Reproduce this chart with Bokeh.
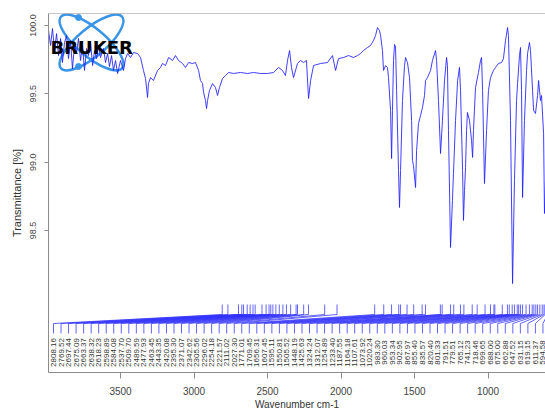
import math
from bokeh.plotting import figure
from bokeh.models import Range1d, FixedTicker, PrintfTickFormatter, Span, Title
from bokeh.core.properties import value
from bokeh.embed import file_html
from bokeh.resources import INLINE

# ---------------- data ----------------
wavenumber = [
    3990, 3976, 3963, 3949, 3935, 3922, 3908, 3895, 3881, 3867, 3854, 3840, 3827, 3813,
    3799, 3786, 3772, 3759, 3745, 3731, 3718, 3704, 3690, 3677, 3663, 3650, 3636, 3616,
    3602, 3588, 3575, 3561, 3548, 3534, 3520, 3500, 3480, 3466, 3452, 3432, 3412, 3384,
    3364, 3344, 3330, 3316, 3310, 3296, 3276, 3248, 3228, 3214, 3194, 3173, 3146, 3126,
    3105, 3078, 3058, 3037, 3010, 2990, 2969, 2956, 2942, 2935, 2922, 2915, 2908, 2895,
    2874, 2854, 2840, 2827, 2806, 2786, 2765, 2731, 2684, 2636, 2595, 2548, 2500, 2459,
    2425, 2398, 2378, 2364, 2350, 2337, 2323, 2296, 2276, 2255, 2235, 2221, 2207, 2187,
    2139, 2092, 2058, 2037, 2017, 1983, 1949, 1915, 1888, 1867, 1847, 1820, 1799, 1779,
    1765, 1752, 1738, 1731, 1718, 1711, 1697, 1684, 1677, 1663, 1656, 1650, 1643, 1636,
    1629, 1622, 1609, 1602, 1595, 1582, 1568, 1561, 1554, 1548, 1534, 1520, 1514, 1507,
    1493, 1486, 1473, 1459, 1446, 1432, 1425, 1412, 1391, 1378, 1357, 1350, 1337, 1323,
    1310, 1296, 1282, 1276, 1269, 1255, 1242, 1235, 1221, 1207, 1194, 1187, 1173, 1167,
    1160, 1153, 1146, 1140, 1126, 1112, 1105, 1099, 1085, 1065, 1051, 1044, 1037, 1024,
    1010, 997, 983, 963, 949, 929, 908, 895, 881, 867, 861, 847, 833, 820,
    806, 799, 786, 779, 772, 765, 752, 738, 731, 718, 711, 697, 690, 677,
    663, 656, 643, 636, 622, 616, 609,
]
transmittance = [
    99.963, 99.854, 99.978, 99.817, 99.941, 99.780, 99.905, 99.729, 99.876, 99.927, 99.758, 99.890, 99.685, 99.854,
    99.802, 99.905, 99.744, 99.854, 99.671, 99.832, 99.780, 99.876, 99.707, 99.817, 99.758, 99.854, 99.766, 99.832,
    99.729, 99.795, 99.700, 99.780, 99.671, 99.744, 99.649, 99.744, 99.671, 99.758, 99.795, 99.766, 99.802, 99.795,
    99.766, 99.671, 99.612, 99.473, 99.575, 99.619, 99.597, 99.671, 99.693, 99.722, 99.707, 99.766, 99.744, 99.780,
    99.744, 99.722, 99.693, 99.729, 99.722, 99.729, 99.671, 99.597, 99.575, 99.510, 99.451, 99.392, 99.451, 99.524,
    99.575, 99.546, 99.488, 99.546, 99.612, 99.634, 99.656, 99.649, 99.656, 99.649, 99.656, 99.649, 99.649, 99.656,
    99.693, 99.671, 99.634, 99.744, 99.817, 99.693, 99.619, 99.722, 99.744, 99.729, 99.744, 99.466, 99.597, 99.707,
    99.722, 99.729, 99.780, 99.671, 99.758, 99.766, 99.780, 99.766, 99.780, 99.795, 99.817, 99.839, 99.854, 99.890,
    99.927, 99.985, 99.963, 99.927, 99.817, 99.671, 99.707, 99.693, 99.619, 99.378, 99.026, 99.378, 99.744, 99.861,
    99.846, 99.524, 98.939, 98.668, 98.939, 99.451, 99.707, 99.766, 99.744, 99.729, 99.619, 99.305, 99.012, 98.975,
    98.814, 99.085, 99.283, 99.341, 99.400, 99.488, 99.597, 99.619, 99.671, 99.744, 99.817, 99.744, 99.451, 99.063,
    99.305, 99.597, 99.766, 99.707, 99.231, 98.375, 98.719, 98.917, 99.305, 99.597, 99.693, 99.524, 98.939, 98.573,
    98.792, 98.961, 99.231, 99.363, 99.305, 99.158, 99.034, 99.231, 99.546, 99.656, 99.744, 99.766, 99.524, 98.843,
    99.231, 99.524, 99.619, 99.671, 99.693, 99.722, 99.729, 99.758, 99.890, 99.985, 99.927, 99.305, 98.111, 98.865,
    99.451, 99.575, 99.780, 99.839, 99.524, 98.741, 99.305, 99.671, 99.795, 99.876, 99.817, 99.524, 99.378, 99.356,
    99.488, 99.597, 99.451, 99.488, 99.209, 98.624, 98.865,
]

peak_positions = [
    2808.16, 2769.52, 2697.44, 2675.09, 2663.37, 2638.32, 2618.23, 2598.89, 2584.08,
    2537.70, 2509.70, 2489.59, 2477.93, 2463.45, 2443.35, 2420.08, 2395.30, 2371.07,
    2342.62, 2305.56, 2296.02, 2254.18, 2221.57, 2111.02, 2027.30,
    1771.01, 1709.45, 1656.31, 1607.45, 1595.11, 1550.81, 1505.52, 1448.19, 1425.63,
    1324.24, 1312.07, 1254.89, 1233.40, 1187.55, 1164.18, 1107.61, 1073.92, 1020.24,
    983.30, 960.03, 953.34, 902.95, 867.97, 855.40, 835.57, 820.40, 801.33, 791.51,
    779.51, 765.12, 741.23, 718.46, 699.65, 688.00, 675.00, 662.88, 647.52, 631.15,
    619.15, 611.37, 594.58, 588.71, 572.30, 551.84,
]
peak_labels = ["%.2f" % v for v in peak_positions]

x_ticks = [3500, 3000, 2500, 2000, 1500, 1000]
y_ticks = [98.5, 99.0, 99.5, 100.0]

# ---------------- layout ----------------
W_LEFT, W_RIGHT = 3990, 609
T_BOTTOM, T_TOP = 97.460, 100.088
FRAME_L, FRAME_T = 48, 13          # px of frame corner
FRAME_W, FRAME_H = 497, 359

def wx(px):
    return W_LEFT - (px - FRAME_L) * (W_LEFT - W_RIGHT) / FRAME_W

def ty(py):
    return T_TOP - (py - FRAME_T) * (T_TOP - T_BOTTOM) / FRAME_H

p = figure(width=545, height=413,
           x_range=Range1d(W_LEFT, W_RIGHT), y_range=Range1d(T_BOTTOM, T_TOP),
           output_backend="svg", toolbar_location=None,
           min_border_left=48, min_border_right=0, min_border_top=13, min_border_bottom=41)
p.outline_line_color = None
p.grid.grid_line_color = None
p.background_fill_color = "white"

FONT = "Liberation Sans"
AX = "#8c8c8c"
for ax in (p.xaxis[0], p.yaxis[0]):
    ax.axis_line_color = AX
    ax.major_tick_line_color = AX
    ax.minor_tick_line_color = None
    ax.major_tick_in = 0
    ax.major_label_text_font = FONT
    ax.major_label_text_color = "#444444"

p.xaxis.ticker = FixedTicker(ticks=x_ticks)
p.xaxis.formatter = PrintfTickFormatter(format="%d")
p.xaxis.major_tick_out = 6
p.xaxis.major_label_standoff = 8
p.xaxis.major_label_text_font_size = "10px"
p.xaxis.axis_label = "Wavenumber cm-1"
p.xaxis.axis_label_text_font = FONT
p.xaxis.axis_label_text_font_size = "10px"
p.xaxis.axis_label_text_font_style = "normal"
p.xaxis.axis_label_text_color = "#333333"
p.xaxis.axis_label_standoff = 1

p.yaxis.ticker = FixedTicker(ticks=y_ticks)
p.yaxis.formatter = PrintfTickFormatter(format="%.1f")
p.yaxis.major_tick_out = 4
p.yaxis.major_label_standoff = 8
p.yaxis.major_label_text_font_size = "9px"
p.yaxis.major_label_orientation = "vertical"

# y title: sits higher than the frame centre, as in the reference
p.add_layout(Title(text="Transmittance [%]", align="center", offset=46, standoff=10,
                   text_font=FONT, text_font_size="11px", text_font_style="normal",
                   text_color="#333333"), "left")

# frame line on top
p.add_layout(Span(location=T_TOP, dimension="width", line_color=AX, line_width=1))

# Bruker logo
LOGO = "#3a95e6"
p.ellipse(x=[wx(91), wx(91)], y=[ty(42), ty(42)], width=80, height=28,
          width_units="screen", height_units="screen", angle=[-0.70, 0.70],
          fill_color=None, line_color=LOGO, line_width=2.5)
p.scatter(x=[wx(78), wx(78)], y=[ty(17), ty(66)], size=6, color=LOGO)

# spectrum
p.line(wavenumber, transmittance, line_color="#1f1fff", line_width=1, line_alpha=0.85)

p.text(x=[wx(50)], y=[ty(47)], text=["BRUKER"], text_font=value("DejaVu Sans"),
       text_font_style="bold", text_font_size=value("18px"), text_color="black",
       text_align="left", text_baseline="alphabetic")

# peak label leader lines
n = len(peak_positions)
lab_x = [wx(53 + 7.53 * i) for i in range(n)]
xs = [[pk, pk, lx, lx] for pk, lx in zip(peak_positions, lab_x)]
ys = [[ty(304), ty(314), ty(323), ty(333)] for _ in range(n)]
p.multi_line(xs, ys, line_color="#3030ff", line_width=1, line_alpha=0.75)

p.text(x=lab_x, y=[ty(352)] * n, text=peak_labels, angle=math.pi / 2,
       text_align="center", text_baseline="middle",
       text_font=value(FONT), text_font_size=value("8px"), text_color="#333333")

open("out.html", "w").write(file_html(p, INLINE))
